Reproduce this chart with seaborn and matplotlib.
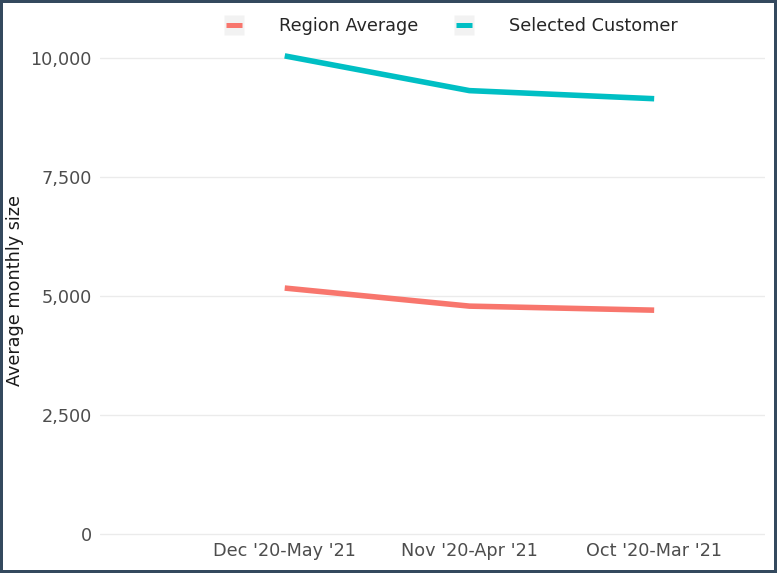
import matplotlib
matplotlib.use("Agg")
import matplotlib.pyplot as plt
import pandas as pd
import seaborn as sns
from matplotlib.legend_handler import HandlerTuple
from matplotlib.lines import Line2D
from matplotlib.ticker import FuncFormatter

periods = ["Dec '20-May '21", "Nov '20-Apr '21", "Oct '20-Mar '21"]
region_avg = [5170, 4790, 4705]
selected_customer = [10050, 9320, 9150]
series_names = ["Region Average", "Selected Customer"]
colors = ["#F8766D", "#00BFC4"]

df = pd.DataFrame({
    "period": periods * 2,
    "size": region_avg + selected_customer,
    "group": [series_names[0]] * 3 + [series_names[1]] * 3,
})

sns.set_theme(style="white")
plt.rcParams["font.family"] = "sans-serif"
plt.rcParams["font.sans-serif"] = ["DejaVu Sans"]

fs = 12.7
fig = plt.figure(figsize=(7.77, 5.73), dpi=100, linewidth=4, edgecolor="#34495e")
ax = fig.add_axes([100 / 777, 37 / 573, 665 / 777, 492 / 573])

sns.lineplot(data=df, x="period", y="size", hue="group", hue_order=series_names,
             palette=colors, linewidth=4, sort=False, legend=False, ax=ax,
             solid_capstyle="butt")

ax.set_xlim(-1.0, 2.6)
ax.set_ylim(-42, 10300)
ax.set_yticks([0, 2500, 5000, 7500, 10000])
ax.yaxis.set_major_formatter(FuncFormatter(lambda v, p: f"{int(v):,}"))

for s in ax.spines.values():
    s.set_visible(False)
ax.grid(True, axis="y", color="#ebebeb", linewidth=1.0)
ax.grid(True, axis="x", color="white", linewidth=1.5)
ax.set_axisbelow(True)
ax.tick_params(axis="y", length=0, pad=6, labelsize=fs, labelcolor="#4d4d4d")
ax.tick_params(axis="x", length=3, width=0.8, color="#999999", direction="inout",
               pad=3, labelsize=fs, labelcolor="#4d4d4d")

ax.set_xlabel("")
ax.set_ylabel("Average monthly size", fontsize=fs, color="#1a1a1a")
ax.yaxis.set_label_coords(-0.115, 0.5)

handles = []
for c in colors:
    bg = Line2D([0], [0], linestyle="none", marker="s", markersize=14.8,
                markerfacecolor="#f2f2f2", markeredgecolor="none")
    ln = Line2D([0], [0], linestyle="none", marker="_", markersize=11.5,
                markeredgewidth=3.6, markeredgecolor=c)
    handles.append((bg, ln))
fig.legend(handles, series_names, loc="center", bbox_to_anchor=(0.58, 0.955),
           ncol=2, frameon=False, fontsize=fs, handlelength=1.18,
           handletextpad=2.0, columnspacing=1.95,
           handler_map={tuple: HandlerTuple(ndivide=1, pad=0)})

fig.savefig("out.png", dpi=100, edgecolor=fig.get_edgecolor())
